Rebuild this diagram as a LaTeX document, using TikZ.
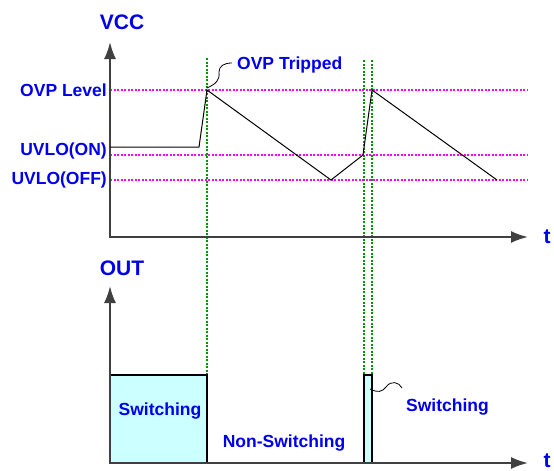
\documentclass[tikz,border=0pt]{standalone}
\usepackage{fontspec}
\setmainfont{Liberation Sans}
\usetikzlibrary{arrows.meta}
\definecolor{lblblue}{RGB}{0,0,235}
\definecolor{swfill}{RGB}{204,255,255}
\definecolor{axgray}{RGB}{64,64,64}
\definecolor{lvlpink}{RGB}{255,0,255}
\definecolor{mkgreen}{RGB}{0,150,0}
\tikzset{
  axis/.style={line width=2pt,axgray,-{Latex[length=17pt,width=12pt]}},
  level/.style={lvlpink,line width=1.5pt,dash pattern=on 2pt off 1.5pt},
  marker/.style={mkgreen,line width=1.4pt,dash pattern=on 2pt off 1.5pt},
  lbl/.style={text=lblblue,font=\bfseries\fontsize{17.5}{20}\selectfont,inner sep=1pt},
  biglbl/.style={text=lblblue,font=\bfseries\fontsize{21}{24}\selectfont,inner sep=1pt},
  wave/.style={black,line width=1pt},
}
\begin{document}
\begin{tikzpicture}[x=1pt,y=-1pt]
        \useasboundingbox (0,0) rectangle (554,471);

        % levels
        \draw[level] (110, 90) -- (528, 90);
        \draw[level] (110, 155) -- (528, 155);
        \draw[level] (110, 180) -- (528, 180);

        % marker lines
        \draw[marker] (207, 58) -- (207, 375);
        \draw[marker] (364, 60) -- (364, 375);
        \draw[marker] (372, 60) -- (372, 375);

        % cyan output pulses
        \filldraw[fill=swfill,draw=black,line width=1.2pt] (110, 463) rectangle (207, 375);
        \filldraw[fill=swfill,draw=black,line width=1.2pt] (364, 463) rectangle (372, 375);

        % axes
        \draw[axis] (110, 238) -- (110, 42);
        \draw[axis] (110, 237) -- (528, 237);
        \draw[axis] (110, 464) -- (110, 286);
        \draw[axis] (110, 463) -- (528, 463);

        % VCC waveform
        \draw[wave] (110, 147) -- (199, 147) -- (207, 90) -- (331, 180)
                    -- (363, 155) -- (372, 90) -- (497, 180);

        \node[biglbl] (vcc) at (122, 22) {VCC};
        \node[biglbl] (out) at (122, 268) {OUT};
        \node[biglbl] (t1) at (547, 237) {t};
        \node[biglbl] (t2) at (547, 461) {t};

        \node[lbl,anchor=east] (ovp) at (108, 90) {OVP Level};
        \node[lbl,anchor=east] (uon) at (108, 151) {UVLO(ON)};
        \node[lbl,anchor=east] (uoff) at (108, 180) {UVLO(OFF)};

        \node[lbl,anchor=west] (trip) at (236, 65) {OVP Tripped};
        \node[lbl] (sw1) at (160, 411) {Switching};
        \node[lbl] (nsw) at (284, 443) {Non-Switching};
        \node[lbl,anchor=west] (sw2) at (405, 407) {Switching};

        % callouts
        \coordinate (peak) at (207, 88);
        \coordinate (pulse) at (370, 389);
        \draw[black,line width=0.8pt] (peak) .. controls (216, 84) and (220, 80) .. (219, 72)
              .. controls (219, 66) and (224, 63) .. (232, 63);
        \draw[black,line width=0.8pt] (pulse) .. controls (378, 393) and (382, 392) .. (386, 387)
              .. controls (391, 380) and (399, 382) .. (402, 388);
    \end{tikzpicture}
\end{document}
